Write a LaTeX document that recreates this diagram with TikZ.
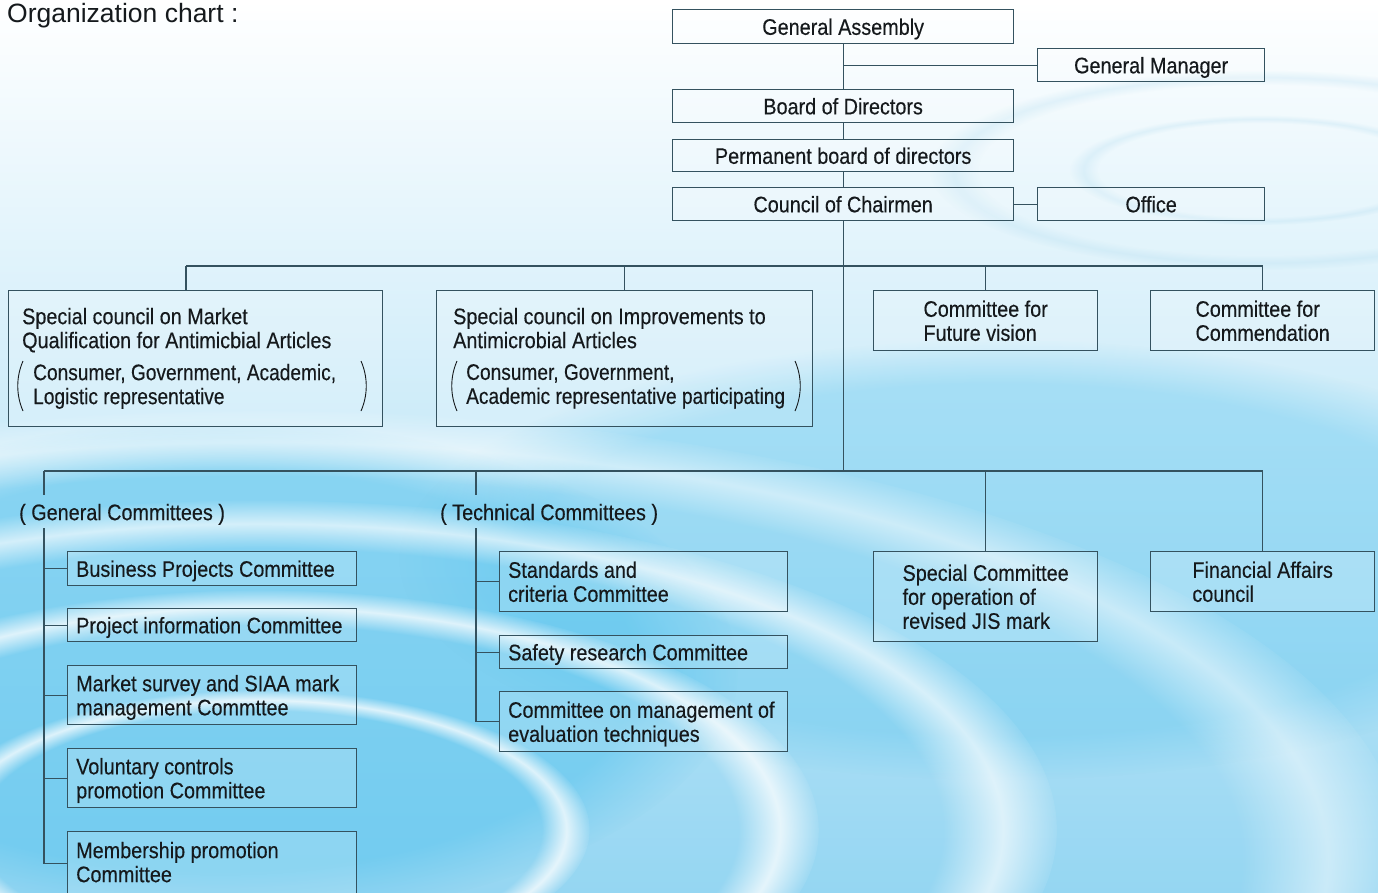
\documentclass[tikz,border=0pt]{standalone}
\usepackage{fontspec}
\setmainfont[FakeStretch=0.88, FakeBold=0.3]{Liberation Sans}
\newfontfamily\subfont[FakeStretch=0.85, FakeBold=0.3]{Liberation Sans}
\newfontfamily\titlefont{Liberation Sans}
\usetikzlibrary{calc,fadings}
\definecolor{edge}{HTML}{34525F}
\definecolor{ink}{HTML}{15191C}
\definecolor{bgb}{HTML}{95D6F2}
\definecolor{bgm}{HTML}{D3EDF9}
\definecolor{bgdeep}{HTML}{55C3EE}
\definecolor{bgring}{HTML}{A8D8EE}
\newcommand\boxfont{\fontsize{22.5}{24}\selectfont}
\tikzset{
  box/.style={draw=edge, line width=1.3pt, fill=white, fill opacity=0.18, text opacity=1,
    text=ink, font=\boxfont, inner xsep=9pt, inner ysep=0pt, text depth=0pt, rectangle, anchor=north west},
  lbox/.style={box, align=left},
  cbox/.style={box, align=center},
  plain/.style={text=ink, font=\boxfont, inner sep=0pt, text depth=0pt, align=left, anchor=west},
  subtext/.style={plain, font=\subfont\boxfont},
  link/.style={draw=edge, line width=1.3pt},
  paren/.style={draw=ink, line width=0.9pt},
  ripple/.style={white, path fading=fuzzy ring 15 percent},
}
\begin{document}
\begin{tikzpicture}[x=1pt,y=-1pt]
\useasboundingbox (0,0) rectangle (1378,892);
\clip (0,0) rectangle (1378,892);
% background
\shade[top color=white, middle color=bgm, bottom color=bgb] (0,0) rectangle (1378,892);
\fill[bgdeep, opacity=0.55, path fading=circle with fuzzy edge 20 percent] (220,670) ellipse [x radius=520, y radius=250];
\fill[bgdeep, opacity=0.35, path fading=circle with fuzzy edge 20 percent] (1000,560) ellipse [x radius=600, y radius=220];
\fill[ripple, opacity=0.75] (260,830) ellipse [x radius=330, y radius=140];
\fill[ripple, opacity=0.75] (260,830) ellipse [x radius=560, y radius=240];
\fill[ripple, opacity=0.65] (260,830) ellipse [x radius=800, y radius=330];
\fill[ripple, opacity=0.5] (260,860) ellipse [x radius=1150, y radius=450];
\fill[bgring, opacity=0.25, path fading=fuzzy ring 15 percent] (1260,170) ellipse [x radius=330, y radius=100];
\fill[bgring, opacity=0.25, path fading=fuzzy ring 15 percent] (1260,170) ellipse [x radius=190, y radius=55];

% title
\node[text=ink, font=\titlefont\fontsize{26.5}{28}\selectfont, anchor=west, inner sep=0pt, text depth=0pt] (title) at (7,13) {Organization chart :};

% top column
\node[cbox, minimum width=341pt, minimum height=34pt] (ga) at (672,9) {General Assembly};
\node[cbox, minimum width=227pt, minimum height=33pt] (gm) at (1037,48) {General Manager};
\node[cbox, minimum width=341pt, minimum height=33pt] (bod) at (672,89) {Board of Directors};
\node[cbox, minimum width=341pt, minimum height=32pt] (pbd) at (672,139) {Permanent board of directors};
\node[cbox, minimum width=341pt, minimum height=33pt] (coc) at (672,187) {Council of Chairmen};
\node[cbox, minimum width=227pt, minimum height=33pt] (off) at (1037,187) {Office};

% special councils
\node[box, minimum width=374pt, minimum height=136pt] (sc1) at (8,290) {};
\node[plain] (sc1t) at (22,328) {Special council on Market\\Qualification for Antimicbial Articles};
\node[subtext] (sc1s) at (33,384) {Consumer, Government, Academic,\\Logistic representative};
\node[box, minimum width=376pt, minimum height=136pt] (sc2) at (436,290) {};
\node[plain] (sc2t) at (453,328) {Special council on Improvements to\\Antimicrobial Articles};
\node[subtext] (sc2s) at (466,384) {Consumer, Government,\\Academic representative participating};
\draw[paren] (23,361) .. controls (16,377) and (16,395) .. (23,411);
\draw[paren] (361,361) .. controls (368,377) and (368,395) .. (361,411);
\draw[paren] (457,361) .. controls (450,377) and (450,395) .. (457,411);
\draw[paren] (795,361) .. controls (802,377) and (802,395) .. (795,411);

\node[lbox, minimum width=224pt, minimum height=60pt] (cfv) at (873,290) {Committee for\\Future vision};
\node[lbox, minimum width=224pt, minimum height=60pt] (cc) at (1150,290) {Committee for\\Commendation};

% lower level
\node[plain] (gcl) at (19,512) {( General Committees )};
\node[plain] (tcl) at (440,512) {( Technical Committees )};

\node[box, minimum width=289pt, minimum height=34pt] (bpc) at (67,551) {};
\node[plain] (bpct) at ([xshift=9pt]bpc.west) {Business Projects Committee};
\node[box, minimum width=289pt, minimum height=33pt] (pic) at (67,608) {};
\node[plain] (pict) at ([xshift=9pt]pic.west) {Project information Committee};
\node[box, minimum width=289pt, minimum height=59pt] (ms) at (67,665) {};
\node[plain] (mst) at ([xshift=9pt]ms.west) {Market survey and SIAA mark\\management Commttee};
\node[box, minimum width=289pt, minimum height=59pt] (vc) at (67,748) {};
\node[plain] (vct) at ([xshift=9pt]vc.west) {Voluntary controls\\promotion Committee};
\node[box, minimum width=289pt, minimum height=64pt] (mp) at (67,831) {};
\node[plain] (mpt) at (76,862) {Membership promotion\\Committee};

\node[box, minimum width=288pt, minimum height=60pt] (std) at (499,551) {};
\node[plain] (stdt) at ([xshift=9pt]std.west) {Standards and\\criteria Committee};
\node[box, minimum width=288pt, minimum height=33pt] (saf) at (499,635) {};
\node[plain] (saft) at ([xshift=9pt]saf.west) {Safety research Committee};
\node[box, minimum width=288pt, minimum height=60pt] (cmg) at (499,691) {};
\node[plain] (cmgt) at ([xshift=9pt]cmg.west) {Committee on management of\\evaluation techniques};

\node[lbox, minimum width=224pt, minimum height=90pt] (jis) at (873,551) {Special Committee\\for operation of\\revised JIS mark};
\node[lbox, minimum width=224pt, minimum height=60pt] (fin) at (1150,551) {Financial Affairs\\council};

% connectors: top column
\draw[link] (ga.south) -- (bod.north);
\draw[link] (gm.west) -- (gm.west -| ga.south);
\draw[link] (bod.south) -- (pbd.north);
\draw[link] (pbd.south) -- (coc.north);
\draw[link] (coc.east) -- (off.west);

\coordinate (t1) at (186,266);
\coordinate (b1) at (44,471);
\coordinate (gtop) at (44,495);
\coordinate (gv) at (44,528);
\coordinate (ttop) at (476,495);
\coordinate (tv) at (476,528);

\draw[link] (coc.south) -- (coc.south |- b1);
\draw[link] (t1) -| (cc.north);
\draw[link] (t1) -- (t1 |- sc1.north);
\draw[link] (sc2.north) -- (sc2.north |- t1);
\draw[link] (cfv.north) -- (cfv.north |- t1);

\draw[link] (b1) -| (fin.north);
\draw[link] (jis.north) -- (jis.north |- b1);
\draw[link] (b1) -- (gtop);
\draw[link] (ttop |- b1) -- (ttop);

\draw[link] (gv) |- (mp.west);
\draw[link] (gv |- bpc.west) -- (bpc.west);
\draw[link] (gv |- pic.west) -- (pic.west);
\draw[link] (gv |- ms.west) -- (ms.west);
\draw[link] (gv |- vc.west) -- (vc.west);

\draw[link] (tv) |- (cmg.west);
\draw[link] (tv |- std.west) -- (std.west);
\draw[link] (tv |- saf.west) -- (saf.west);
\end{tikzpicture}
\end{document}
